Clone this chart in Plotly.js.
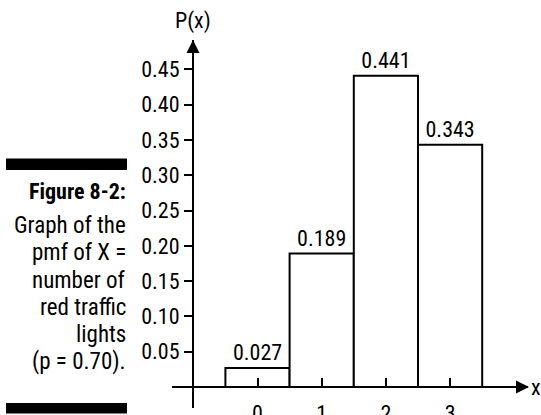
<!DOCTYPE html>
<html>
<head>
<meta charset="utf-8">
<script src="https://cdn.plot.ly/plotly-3.0.1.min.js"></script>
<style>html,body{margin:0;padding:0;background:#fff;}#chart{width:541px;height:415px;}</style>
</head>
<body>
<div id="chart"></div>
<script>
// ---- data ----
const xValues = [0, 1, 2, 3];
const probabilities = [0.027, 0.189, 0.441, 0.343];
const yTickValues = [0.05, 0.10, 0.15, 0.20, 0.25, 0.30, 0.35, 0.40, 0.45];
const yTickLabels = ["0.05", "0.10", "0.15", "0.20", "0.25", "0.30", "0.35", "0.40", "0.45"];
const xTickValues = [0, 1, 2, 3];
const xTickLabels = ["0", "1", "2", "3"];
const captionTitle = "Figure 8-2:";
const captionLines = ["Graph of the", "pmf of X =", "number of", "red traffic", "lights", "(p = 0.70)."];
const yAxisTitle = "P(x)";
const xAxisTitle = "x";

// ---- layout helpers ----
const W = 541, H = 415;
const FONT = "Liberation Sans Narrow, Roboto Condensed, DejaVu Sans Condensed, Arial Narrow, sans-serif";
const px = v => v / W;           // pixel x -> paper
const py = v => (H - v) / H;     // pixel y -> paper

const trace = {
  type: "bar",
  x: xValues,
  y: probabilities,
  width: 1,
  marker: {color: "#ffffff", line: {color: "#000000", width: 2}},
  texttemplate: "%{y:.3f}",
  textposition: "outside",
  cliponaxis: false,
  textfont: {family: FONT, size: 22, color: "#000"},
  hoverinfo: "skip",
  xaxis: "x",
  yaxis: "y"
};

const axisFont = {family: FONT, size: 22, color: "#000"};

const layout = {
  width: W, height: H,
  margin: {l: 0, r: 0, t: 0, b: 0, pad: 0},
  paper_bgcolor: "#fff",
  plot_bgcolor: "rgba(0,0,0,0)",
  showlegend: false,
  font: {family: FONT, color: "#000"},
  xaxis: {
    domain: [px(172), px(528)],
    range: [-1.3318, 4.2134],
    anchor: "free",
    position: py(387),
    showline: true, linecolor: "#000", linewidth: 2,
    showgrid: false, zeroline: false,
    ticks: "inside", ticklen: 8, tickwidth: 2, tickcolor: "#000",
    tickmode: "array", tickvals: xTickValues, ticktext: xTickLabels,
    tickfont: axisFont,
    ticklabelstandoff: 7,
    automargin: false,
    fixedrange: true
  },
  yaxis: {
    domain: [py(408), py(40)],
    range: [-0.02975, 0.4915],
    anchor: "free",
    position: px(193),
    showline: true, linecolor: "#000", linewidth: 2,
    showgrid: false, zeroline: false,
    ticks: "outside", ticklen: 8, tickwidth: 2, tickcolor: "#000",
    tickmode: "array", tickvals: yTickValues, ticktext: yTickLabels,
    tickfont: axisFont,
    automargin: false,
    fixedrange: true
  },
  yaxis2: {
    domain: [py(408), py(40)],
    range: [-0.02975, 0.4915],
    overlaying: "y",
    anchor: "free",
    position: px(193),
    showline: false,
    showgrid: false, zeroline: false,
    ticks: "inside", ticklen: 9, tickwidth: 2, tickcolor: "#000",
    tickmode: "array", tickvals: yTickValues,
    showticklabels: false,
    automargin: false,
    fixedrange: true
  },
  shapes: [
    {type: "rect", xref: "paper", yref: "paper", x0: px(6), x1: px(127), y0: py(170), y1: py(158.5), fillcolor: "#000", line: {width: 0}},
    {type: "rect", xref: "paper", yref: "paper", x0: px(6), x1: px(127), y0: py(413.5), y1: py(403), fillcolor: "#000", line: {width: 0}}
  ],
  annotations: []
};

// axis arrowheads
layout.annotations.push({xref: "paper", yref: "paper", x: px(193), y: py(40), text: "", showarrow: true,
  arrowhead: 2, arrowsize: 1.3, arrowwidth: 2, arrowcolor: "#000", ax: 0, ay: 20, standoff: 0});
layout.annotations.push({xref: "paper", yref: "paper", x: px(529), y: py(387), text: "", showarrow: true,
  arrowhead: 2, arrowsize: 1.3, arrowwidth: 2, arrowcolor: "#000", ax: -20, ay: 0, standoff: 0});

// axis titles
layout.annotations.push({xref: "paper", yref: "paper", x: px(193), y: py(21), xanchor: "center", yanchor: "middle",
  text: yAxisTitle, showarrow: false, font: {family: FONT, size: 22, color: "#000"}});
layout.annotations.push({xref: "paper", yref: "paper", x: px(536), y: py(387), xanchor: "center", yanchor: "middle",
  text: xAxisTitle, showarrow: false, font: {family: FONT, size: 22, color: "#000"}});

// caption
layout.annotations.push({xref: "paper", yref: "paper", x: px(128), y: py(191), xanchor: "right", yanchor: "middle",
  text: "<b>" + captionTitle + "</b>", showarrow: false, font: {family: FONT, size: 22, color: "#000"}});
const captionY = [226, 253, 280, 307, 334, 361];
captionLines.forEach((t, i) => {
  layout.annotations.push({xref: "paper", yref: "paper", x: px(128), y: py(captionY[i]), xanchor: "right", yanchor: "middle",
    text: t, showarrow: false, font: {family: FONT, size: 23, color: "#000"}});
});

Plotly.newPlot("chart", [trace], layout, {displayModeBar: false, staticPlot: true});
</script>
</body>
</html>
